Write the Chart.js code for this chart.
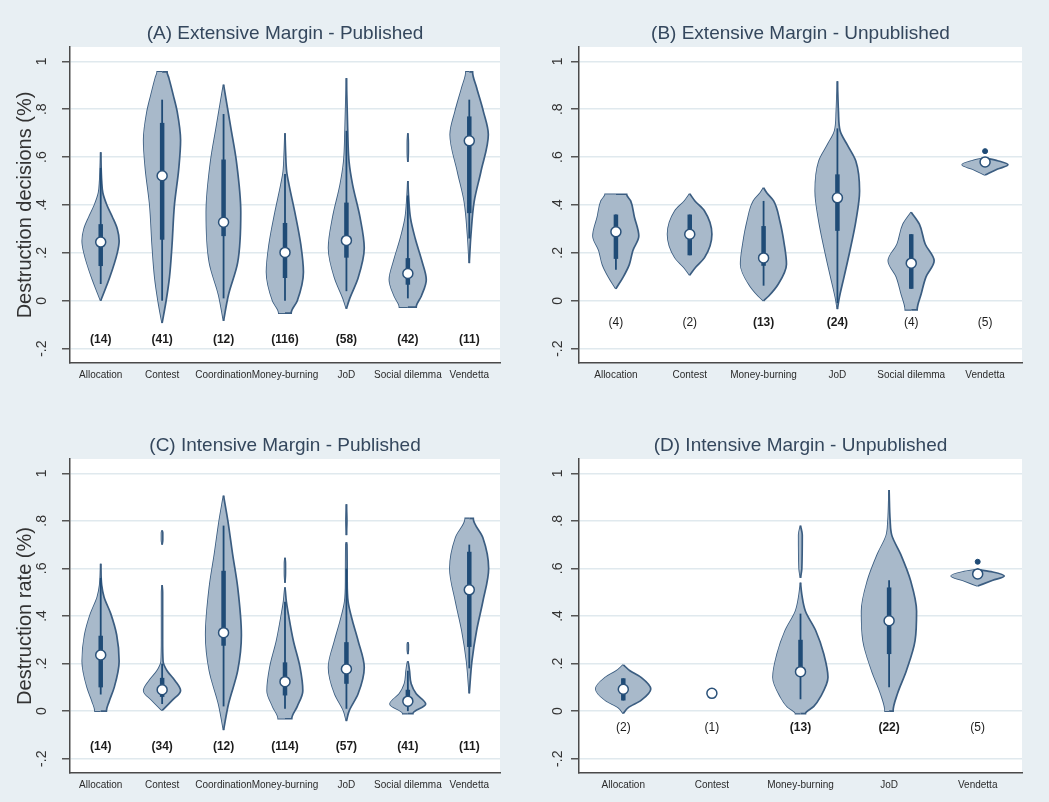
<!DOCTYPE html>
<html>
<head>
<meta charset="utf-8">
<script src="https://cdn.jsdelivr.net/npm/chart.js@4.4.1/dist/chart.umd.min.js"></script>
<style>
  html, body { margin: 0; padding: 0; background: #e8eff3; }
  body { width: 1049px; height: 802px; position: relative; overflow: hidden; }
  canvas { position: absolute; }
</style>
</head>
<body>
<canvas id="cA" width="520" height="400" style="left:0;top:0"></canvas>
<canvas id="cB" width="529" height="400" style="left:520px;top:0"></canvas>
<canvas id="cC" width="520" height="402" style="left:0;top:400px"></canvas>
<canvas id="cD" width="529" height="402" style="left:520px;top:400px"></canvas>
<script>
// y axis ticks shared by all four panels
var yTicks = [-0.2, 0, 0.2, 0.4, 0.6, 0.8, 1];
var yTickLabels = ['-.2', '0', '.2', '.4', '.6', '.8', '1'];

// (A) Extensive margin - published
var catsA = ['Allocation', 'Contest', 'Coordination', 'Money-burning', 'JoD', 'Social dilemma', 'Vendetta'];
var countsA = [14, 41, 12, 116, 58, 42, 11];
var medA = [0.245, 0.522, 0.328, 0.202, 0.252, 0.114, 0.668];
var q1A = [0.145, 0.255, 0.27, 0.095, 0.18, 0.067, 0.366];
var q3A = [0.32, 0.743, 0.59, 0.325, 0.41, 0.178, 0.77];
var loA = [0.07, 0.0, 0.01, 0.0, 0.04, 0.01, 0.26];
var hiA = [0.555, 0.84, 0.78, 0.53, 0.71, 0.44, 0.84];
var outA = [];
// violin outline: [value, half width] per piece
var shapeA = [
  [[[0,0],[0.1,0.15],[0.2,0.27],[0.25,0.30],[0.3,0.27],[0.35,0.19],[0.4,0.10],[0.45,0.035],[0.5,0.016],[0.62,0]]],
  [[[-0.093,0],[0,0.065],[0.1,0.12],[0.23,0.16],[0.4,0.20],[0.55,0.27],[0.67,0.30],[0.79,0.245],[0.86,0.18],[0.93,0.11],[0.956,0.08],[0.956,0]]],
  [[[-0.084,0],[0.025,0.08],[0.16,0.23],[0.37,0.28],[0.58,0.21],[0.72,0.12],[0.82,0.054],[0.903,0]]],
  [[[-0.052,0],[-0.052,0.10],[0.0,0.2],[0.12,0.30],[0.23,0.26],[0.37,0.16],[0.485,0.065],[0.54,0.027],[0.62,0.01],[0.70,0]]],
  [[[-0.033,0],[0.01,0.054],[0.095,0.19],[0.22,0.29],[0.35,0.22],[0.485,0.10],[0.58,0.043],[0.72,0.02],[0.93,0]]],
  [[[-0.027,0],[-0.027,0.136],[0.02,0.22],[0.088,0.30],[0.165,0.23],[0.26,0.12],[0.345,0.043],[0.44,0.011],[0.50,0]],
   [[0.58,0],[0.62,0.008],[0.66,0.008],[0.70,0]]],
  [[[0.157,0],[0.276,0.027],[0.415,0.08],[0.54,0.19],[0.694,0.31],[0.79,0.23],[0.89,0.12],[0.956,0.054],[0.956,0]]]
];

// (B) Extensive margin - unpublished
var catsB = ['Allocation', 'Contest', 'Money-burning', 'JoD', 'Social dilemma', 'Vendetta'];
var countsB = [4, 2, 13, 24, 4, 5];
var medB = [0.288, 0.278, 0.179, 0.43, 0.157, 0.58];
var q1B = [0.175, 0.19, 0.146, 0.292, 0.05, 0.57];
var q3B = [0.36, 0.36, 0.312, 0.528, 0.278, 0.59];
var loB = [0.13, 0.19, 0.063, -0.01, 0.05, 0.57];
var hiB = [0.36, 0.36, 0.417, 0.72, 0.278, 0.6];
var outB = [[6, 0.625]];
var shapeB = [
  [[[0.05,0],[0.1,0.10],[0.15,0.18],[0.21,0.23],[0.27,0.31],[0.35,0.25],[0.417,0.20],[0.445,0.145],[0.445,0]]],
  [[[0.107,0],[0.14,0.08],[0.18,0.20],[0.278,0.30],[0.375,0.20],[0.417,0.07],[0.447,0]]],
  [[[0,0],[0.02,0.07],[0.07,0.20],[0.153,0.31],[0.236,0.28],[0.333,0.22],[0.417,0.136],[0.45,0.045],[0.472,0]]],
  [[[-0.035,0],[0.015,0.027],[0.1,0.09],[0.21,0.17],[0.333,0.25],[0.458,0.30],[0.583,0.25],[0.65,0.136],[0.71,0.036],[0.79,0.014],[0.917,0]]],
  [[[-0.038,0],[-0.038,0.08],[0.03,0.136],[0.1,0.20],[0.167,0.31],[0.236,0.19],[0.32,0.11],[0.37,0]]],
  [[[0.525,0],[0.55,0.17],[0.568,0.31],[0.585,0.17],[0.597,0]]]
];

// (C) Intensive margin - published
var catsC = catsA;
var countsC = [14, 34, 12, 114, 57, 41, 11];
var medC = [0.236, 0.09, 0.33, 0.124, 0.177, 0.042, 0.51];
var q1C = [0.1, 0.06, 0.275, 0.066, 0.115, 0.02, 0.27];
var q3C = [0.317, 0.14, 0.59, 0.205, 0.29, 0.09, 0.67];
var loC = [0.07, 0.03, 0.02, 0.01, 0.01, 0.0, 0.18];
var hiC = [0.56, 0.2, 0.78, 0.46, 0.6, 0.17, 0.70];
var outC = [];
var shapeC = [
  [[[0,0],[0,0.092],[0.04,0.136],[0.1,0.22],[0.21,0.30],[0.32,0.26],[0.41,0.163],[0.48,0.054],[0.53,0.016],[0.62,0]]],
  [[[0.003,0],[0.045,0.163],[0.086,0.30],[0.128,0.21],[0.17,0.08],[0.21,0.015],[0.3,0.008],[0.5,0.008],[0.53,0]],
   [[0.70,0],[0.72,0.01],[0.75,0.01],[0.76,0]]],
  [[[-0.08,0],[0.03,0.08],[0.17,0.23],[0.32,0.29],[0.52,0.23],[0.66,0.147],[0.8,0.07],[0.906,0]]],
  [[[-0.032,0],[-0.032,0.11],[0.02,0.2],[0.086,0.29],[0.184,0.245],[0.296,0.136],[0.41,0.054],[0.46,0.022],[0.5,0.008],[0.52,0]],
   [[0.54,0],[0.58,0.008],[0.62,0.008],[0.645,0]]],
  [[[-0.042,0],[0.0,0.043],[0.073,0.19],[0.184,0.29],[0.296,0.19],[0.38,0.098],[0.46,0.027],[0.55,0.012],[0.7,0.008],[0.71,0]],
   [[0.74,0],[0.8,0.008],[0.87,0]]],
  [[[-0.01,0],[-0.01,0.082],[0.03,0.29],[0.073,0.136],[0.115,0.054],[0.17,0.027],[0.2,0.01],[0.21,0]],
   [[0.24,0],[0.26,0.008],[0.28,0.008],[0.29,0]]],
  [[[0.075,0],[0.21,0.043],[0.34,0.12],[0.46,0.22],[0.6,0.315],[0.73,0.22],[0.81,0.065],[0.81,0]]]
];

// (D) Intensive margin - unpublished
var catsD = ['Allocation', 'Contest', 'Money-burning', 'JoD', 'Vendetta'];
var countsD = [2, 1, 13, 22, 5];
var medD = [0.092, 0.075, 0.166, 0.38, 0.577];
var q1D = [0.045, null, 0.184, 0.24, 0.57];
var q3D = [0.138, null, 0.3, 0.52, 0.59];
var loD = [0.045, null, 0.05, 0.1, 0.57];
var hiD = [0.138, null, 0.41, 0.55, 0.6];
var outD = [[5, 0.628]];
var shapeD = [
  [[[-0.01,0],[0.015,0.056],[0.045,0.2],[0.093,0.31],[0.142,0.2],[0.17,0.075],[0.195,0]]],
  [],
  [[[-0.01,0],[-0.01,0.056],[0.02,0.15],[0.06,0.225],[0.142,0.31],[0.24,0.263],[0.34,0.17],[0.42,0.056],[0.49,0.015],[0.54,0]],
   [[0.56,0],[0.6,0.015],[0.74,0.02],[0.78,0]]],
  [[[0,0],[0,0.045],[0.073,0.094],[0.17,0.195],[0.296,0.293],[0.42,0.31],[0.547,0.244],[0.66,0.13],[0.74,0.03],[0.8,0.012],[0.93,0]]],
  [[[0.526,0],[0.55,0.17],[0.568,0.30],[0.585,0.17],[0.595,0]]]
];

var violinFill = '#a8b9ca';
var violinLine = '#3b5d81';
var boxColor = '#1f4b76';
var fontFamily = "'Liberation Sans', Arial, Helvetica, sans-serif";

Chart.defaults.font.family = fontFamily;

function buildDatasets(shape, q1, q3, lo, hi, med, out) {
  var ds = [];
  ds.push({
    data: med.map(function(m, i) { return {x: i + 1, y: m}; }),
    showLine: false, pointRadius: 5, pointBackgroundColor: '#ffffff',
    pointBorderColor: '#2a5179', pointBorderWidth: 1.5, order: 0
  });
  if (out.length) {
    ds.push({
      data: out.map(function(o) { return {x: o[0], y: o[1]}; }),
      showLine: false, pointRadius: 2.5, pointBackgroundColor: boxColor,
      pointBorderColor: boxColor, order: 0
    });
  }
  for (var i = 0; i < med.length; i++) {
    if (q1[i] == null) continue;
    ds.push({
      data: [{x: i + 1, y: q1[i]}, {x: i + 1, y: q3[i]}],
      borderColor: boxColor, borderWidth: 4.5, pointRadius: 0, order: 1
    });
    ds.push({
      data: [{x: i + 1, y: lo[i]}, {x: i + 1, y: hi[i]}],
      borderColor: boxColor, borderWidth: 1.8, pointRadius: 0, order: 2
    });
  }
  shape.forEach(function(pieces, i) {
    pieces.forEach(function(piece) {
      // right edge, filled to the left edge that follows it
      ds.push({
        data: piece.map(function(p) { return {x: i + 1 + p[1], y: p[0]}; }),
        indexAxis: 'y', fill: '+1', backgroundColor: violinFill,
        borderColor: violinLine, borderWidth: 1.7, pointRadius: 0,
        cubicInterpolationMode: 'monotone', order: 3
      });
      ds.push({
        data: piece.map(function(p) { return {x: i + 1 - p[1], y: p[0]}; }),
        indexAxis: 'y', fill: false,
        borderColor: violinLine, borderWidth: 1.7, pointRadius: 0,
        cubicInterpolationMode: 'monotone', order: 3
      });
    });
  });
  return ds;
}

var panelText = {
  id: 'panelText',
  beforeDraw: function(chart) {
    var a = chart.chartArea;
    var ctx = chart.ctx;
    ctx.save();
    ctx.fillStyle = '#ffffff';
    ctx.fillRect(a.left, a.top, a.right - a.left, a.bottom - a.top);
    ctx.restore();
  },
  afterDraw: function(chart, args, opts) {
    var a = chart.chartArea;
    var ctx = chart.ctx;
    ctx.save();
    ctx.fillStyle = '#34475d';
    ctx.font = '19px ' + fontFamily;
    ctx.textAlign = 'center';
    ctx.textBaseline = 'middle';
    ctx.fillText(opts.title, (a.left + a.right) / 2, a.top - 13);
    var y = chart.scales.y.getPixelForValue(opts.countY);
    opts.counts.forEach(function(n, i) {
      var x = chart.scales.x.getPixelForValue(i + 1);
      ctx.font = (n >= 10 ? 'bold ' : '') + '12px ' + fontFamily;
      ctx.fillStyle = '#1c1c1c';
      ctx.fillText('(' + n + ')', x, y);
    });
    ctx.restore();
  }
};

function makePanel(id, p) {
  new Chart(document.getElementById(id), {
    type: 'line',
    data: { datasets: buildDatasets(p.shape, p.q1, p.q3, p.lo, p.hi, p.med, p.out) },
    plugins: [panelText],
    options: {
      responsive: false,
      devicePixelRatio: 1,
      animation: false,
      layout: { padding: { left: 0, right: p.padRight, top: p.padTop, bottom: 0 } },
      plugins: {
        legend: { display: false },
        tooltip: { enabled: false },
        panelText: { title: p.title, counts: p.counts, countY: p.countY }
      },
      scales: {
        x: {
          type: 'linear', min: 0.5, max: p.cats.length + 0.5,
          afterBuildTicks: function(s) { s.ticks = p.cats.map(function(c, i) { return {value: i + 1}; }); },
          afterFit: function(s) { s.height = p.xHeight; },
          ticks: {
            autoSkip: false, minRotation: 0, maxRotation: 0, padding: 6,
            color: '#2b2b2b', font: { size: 10 },
            callback: function(v, i) { return p.cats[i]; }
          },
          grid: { display: false, drawTicks: false },
          border: { color: '#4a4a4a', width: 1.5 }
        },
        y: {
          type: 'linear', min: -0.26, max: 1.06,
          afterBuildTicks: function(s) { s.ticks = yTicks.map(function(v) { return {value: v}; }); },
          afterFit: function(s) { s.width = p.yWidth; },
          ticks: {
            minRotation: 90, maxRotation: 90, crossAlign: 'center', padding: p.yPad,
            color: '#333333', font: { size: 14 },
            callback: function(v, i) { return yTickLabels[i]; }
          },
          grid: { color: '#e0e9ee', lineWidth: 1.5, tickLength: 8, tickColor: '#555555', tickWidth: 1.5 },
          border: { color: '#4a4a4a', width: 1.5 },
          title: {
            display: !!p.yTitle, text: p.yTitle || '', color: '#333333',
            font: { size: 20 }, padding: { top: 13, bottom: 0 }
          }
        }
      }
    }
  });
}

makePanel('cA', { title: '(A) Extensive Margin - Published', yTitle: 'Destruction decisions (%)',
  cats: catsA, counts: countsA, med: medA, q1: q1A, q3: q3A, lo: loA, hi: hiA, out: outA, shape: shapeA,
  countY: -0.163, padRight: 20, padTop: 47, xHeight: 37, yWidth: 70, yPad: 12 });
makePanel('cB', { title: '(B) Extensive Margin - Unpublished',
  cats: catsB, counts: countsB, med: medB, q1: q1B, q3: q3B, lo: loB, hi: hiB, out: outB, shape: shapeB,
  countY: -0.09, padRight: 27, padTop: 47, xHeight: 37, yWidth: 59, yPad: 5 });
makePanel('cC', { title: '(C) Intensive Margin - Published', yTitle: 'Destruction rate (%)',
  cats: catsC, counts: countsC, med: medC, q1: q1C, q3: q3C, lo: loC, hi: hiC, out: outC, shape: shapeC,
  countY: -0.148, padRight: 20, padTop: 59, xHeight: 29, yWidth: 70, yPad: 12 });
makePanel('cD', { title: '(D) Intensive Margin - Unpublished',
  cats: catsD, counts: countsD, med: medD, q1: q1D, q3: q3D, lo: loD, hi: hiD, out: outD, shape: shapeD,
  countY: -0.07, padRight: 27, padTop: 59, xHeight: 29, yWidth: 59, yPad: 5 });
</script>
</body>
</html>
